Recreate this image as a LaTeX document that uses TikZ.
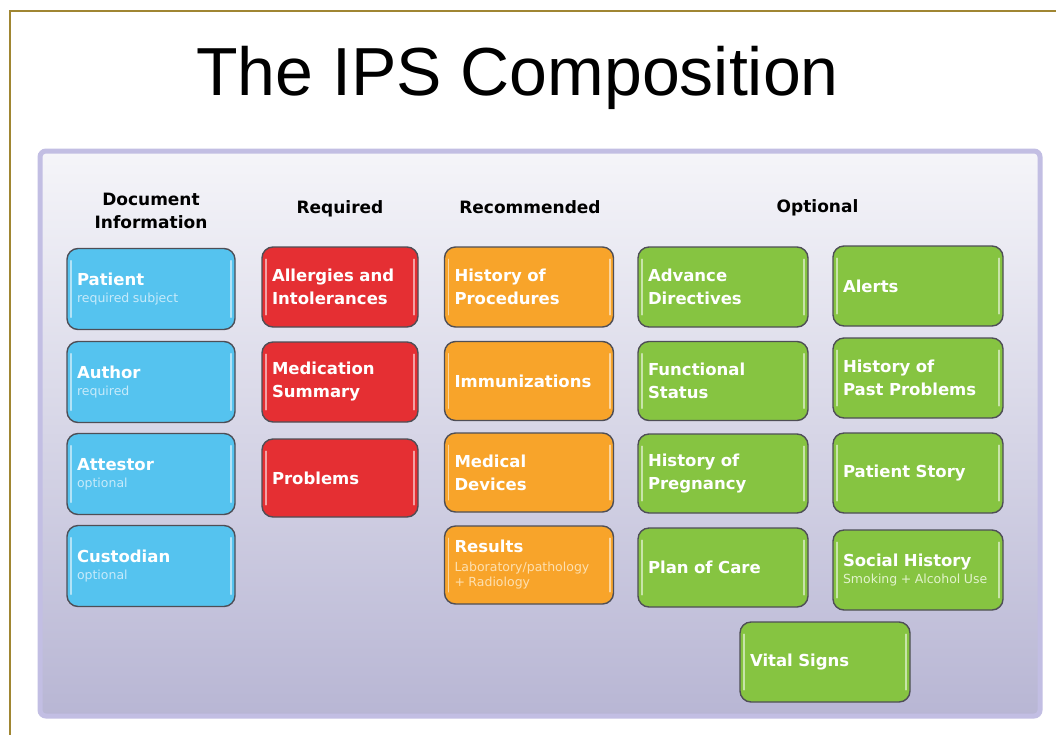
\documentclass[tikz,border=0pt]{standalone}
\usepackage{fontspec}
\newfontfamily\titlefont{Liberation Sans}
\newfontfamily\boxfont{DejaVu Sans}
\definecolor{framegold}{HTML}{A08632}
\definecolor{paneltop}{HTML}{F5F5F9}
\definecolor{panelmid}{HTML}{D9D8E8}
\definecolor{panelbot}{HTML}{B8B6D4}
\definecolor{panelrim}{HTML}{C2BEE3}
\definecolor{boxedge}{HTML}{4E4E56}
\definecolor{docblue}{HTML}{55C3EF}
\definecolor{reqred}{HTML}{E52F33}
\definecolor{recorange}{HTML}{F8A42A}
\definecolor{optgreen}{HTML}{86C441}
\definecolor{subblue}{HTML}{C6EAFA}
\definecolor{suborange}{HTML}{FDE0B0}
\definecolor{subgreen}{HTML}{E2F3CC}
% small second-line caption inside a box, kept at natural spacing
\newcommand{\subtxt}[2]{\mbox{\fontsize{12.5}{15}\selectfont\mdseries\spaceskip=0.28em\relax\color{#1}#2}}
\tikzset{
  ipsbox/.style={rectangle, rounded corners=11pt, draw=boxedge, line width=1.4pt,
    fill=#1, minimum height=80pt, inner xsep=10pt, inner ysep=0pt,
    text width=148pt, align=left, text=white,
    font=\boxfont\bfseries\fontsize{16.5}{23}\selectfont},
  hdr/.style={font=\boxfont\bfseries\fontsize{17}{23}\selectfont, text=black, align=center, inner sep=0pt},
  hilite/.style={line width=1.6pt, draw=white, draw opacity=0.55, line cap=round}
}
\newcommand{\edgelight}[1]{%
  \draw[hilite] ([xshift=4.5pt,yshift=-13pt]#1.north west) -- ([xshift=4.5pt,yshift=13pt]#1.south west);
  \draw[hilite] ([xshift=-4.5pt,yshift=-13pt]#1.north east) -- ([xshift=-4.5pt,yshift=13pt]#1.south east);
}
\begin{document}
\begin{tikzpicture}[x=1pt, y=-1pt]
  \useasboundingbox (0,0) rectangle (1056,734);
  \fill[white] (0,0) rectangle (1056,734);

  % page frame (top and left edge)
  \draw[framegold, line width=2pt] (10,736) -- (10,11) -- (1058,11);

  % title
  \node[anchor=base, font=\titlefont\fontsize{68}{80}\selectfont, inner sep=0pt] (title) at (517.5,95) {The IPS Composition};

  % panel
  \shade[rounded corners=6pt, top color=paneltop, middle color=panelmid, bottom color=panelbot] (40,151) rectangle (1040,716);
  \draw[panelrim, line width=5pt, rounded corners=6pt] (40,151) rectangle (1040,716);

  % column headings
  \node[hdr] (hdoc) at (151,211) {Document\\Information};
  \node[hdr, anchor=base] (hreq) at (340,213) {Required};
  \node[hdr, anchor=base] (hrec) at (530,213) {Recommended};
  \node[hdr, anchor=base] (hopt) at (817.5,212) {Optional};

  % document information
  \node[ipsbox=docblue, minimum height=81pt] (patient) at (151,289) {Patient\\[-6pt]\subtxt{subblue}{required subject}};
  \node[ipsbox=docblue, minimum height=81pt] (author) at (151,382) {Author\\[-6pt]\subtxt{subblue}{required}};
  \node[ipsbox=docblue, minimum height=81pt] (attestor) at (151,474) {Attestor\\[-6pt]\subtxt{subblue}{optional}};
  \node[ipsbox=docblue, minimum height=81pt] (custodian) at (151,566) {Custodian\\[-6pt]\subtxt{subblue}{optional}};

  % required sections
  \node[ipsbox=reqred, text width=136pt] (allergies) at (340,287) {Allergies and\\Intolerances};
  \node[ipsbox=reqred, text width=136pt] (medication) at (340,382) {Medication\\Summary};
  \node[ipsbox=reqred, text width=136pt, minimum height=78pt] (problems) at (340,478) {Problems};

  % recommended sections
  \node[ipsbox=recorange, text width=149pt] (procedures) at (529,287) {History of\\Procedures};
  \node[ipsbox=recorange, text width=149pt, minimum height=79pt] (immunizations) at (529,381) {Immunizations};
  \node[ipsbox=recorange, text width=149pt, minimum height=79pt] (devices) at (529,472.5) {Medical\\Devices};
  \node[ipsbox=recorange, text width=149pt, minimum height=78pt] (results) at (529,565) {Results\\[-4pt]\subtxt{suborange}{Laboratory/pathology}\\[-8pt]\subtxt{suborange}{+ Radiology}};

  % optional sections
  \node[ipsbox=optgreen, text width=150pt] (advance) at (723,287) {Advance\\Directives};
  \node[ipsbox=optgreen, text width=150pt, minimum height=79pt] (functional) at (723,381) {Functional\\Status};
  \node[ipsbox=optgreen, text width=150pt, minimum height=79pt] (pregnancy) at (723,473.5) {History of\\Pregnancy};
  \node[ipsbox=optgreen, text width=150pt, minimum height=79pt] (plancare) at (723,567.5) {Plan of Care};
  \node[ipsbox=optgreen, text width=150pt] (alerts) at (918,286) {Alerts};
  \node[ipsbox=optgreen, text width=150pt] (pastprob) at (918,378) {History of\\Past Problems};
  \node[ipsbox=optgreen, text width=150pt] (story) at (918,473) {Patient Story};
  \node[ipsbox=optgreen, text width=150pt] (social) at (918,570) {Social History\\[-6pt]\subtxt{subgreen}{Smoking + Alcohol Use}};
  \node[ipsbox=optgreen, text width=150pt] (vital) at (825,662) {Vital Signs};

  % glossy edge highlights
  \foreach \b in {patient,author,attestor,custodian,allergies,medication,problems,
                  procedures,immunizations,devices,results,advance,functional,
                  pregnancy,plancare,alerts,pastprob,story,social,vital}{
    \edgelight{\b}
  }
\end{tikzpicture}
\end{document}
